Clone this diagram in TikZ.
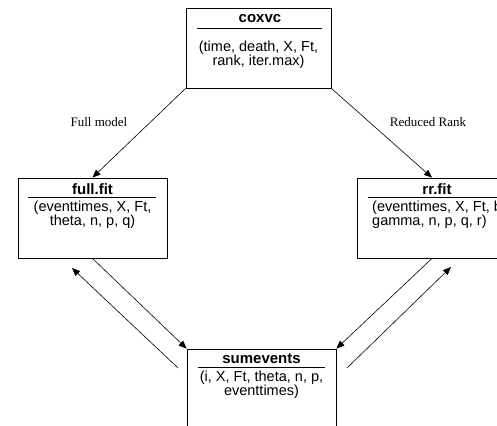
\documentclass[tikz,border=0pt]{standalone}
\usepackage{fontspec}
\setmainfont{Liberation Sans}
\newfontfamily\timesfont{Liberation Serif}
\usetikzlibrary{arrows.meta}
\tikzset{
  x=1pt, y=-1pt,
  box/.style={draw=black, line width=0.8pt, inner sep=0pt},
  ttl/.style={inner sep=0pt, font=\fontsize{15}{15}\selectfont\bfseries},
  body/.style={inner sep=0pt, align=center, font=\fontsize{14.5}{14}\selectfont},
  lbl/.style={inner sep=0pt, font=\timesfont\fontsize{13}{13}\selectfont},
  hline/.style={line width=0.8pt},
  arr/.style={line width=0.6pt, -{Triangle[length=8pt,width=6.5pt]}},
}
\begin{document}
\begin{tikzpicture}
\useasboundingbox (0,0) rectangle (497,425);
\clip (0,0) rectangle (497,425);
% coxvc
\node[box, minimum width=145pt, minimum height=80pt] (coxvc) at (258.5,48) {};
\node[ttl] (coxvcT) at (260,19) {coxvc};
\draw[hline] (197,28) -- (322,28);
\node[body] (coxvcB) at (258.5,55) {(time, death, X, Ft,\\rank, iter.max)};
% full.fit
\node[box, minimum width=149pt, minimum height=80pt] (full) at (92.5,218) {};
\node[ttl] (fullT) at (92.5,189) {full.fit};
\draw[hline] (28,197) -- (156,197);
\node[body] (fullB) at (92.5,215) {(eventtimes, X, Ft,\\theta, n, p, q)};
% rr.fit
\node[box, minimum width=150pt, minimum height=80pt] (rr) at (432,218) {};
\node[ttl] (rrT) at (437,189) {rr.fit};
\draw[hline] (368,197) -- (500,197);
\node[body, align=left, anchor=west] (rrB) at (372,215) {(eventtimes, X, Ft, b,\\gamma, n, p, q, r)};
% sumevents
\node[box, minimum width=149pt, minimum height=92pt] (sum) at (261.5,395) {};
\node[ttl] (sumT) at (261.5,359) {sumevents};
\draw[hline] (198,367) -- (325,367);
\node[body] (sumB) at (261.5,385) {(i, X, Ft, theta, n, p,\\eventtimes)};
% free ends
\coordinate (fbT) at (178,368);
\coordinate (fbH) at (72,268);
\coordinate (rbT) at (347,368);
\coordinate (rbH) at (451,267);
% connectors
\draw[arr] (coxvc.south west) -- (full.north);
\draw[arr] (coxvc.south east) -- (rr.north);
\draw[arr] (full.south) -- (sum.north west);
\draw[arr] (rr.south) -- (sum.north east);
\draw[arr] (fbT) -- (fbH);
\draw[arr] (rbT) -- (rbH);
% labels
\node[lbl] (l1) at (99,122) {Full model};
\node[lbl] (l2) at (428,122) {Reduced Rank};
\end{tikzpicture}
\end{document}
